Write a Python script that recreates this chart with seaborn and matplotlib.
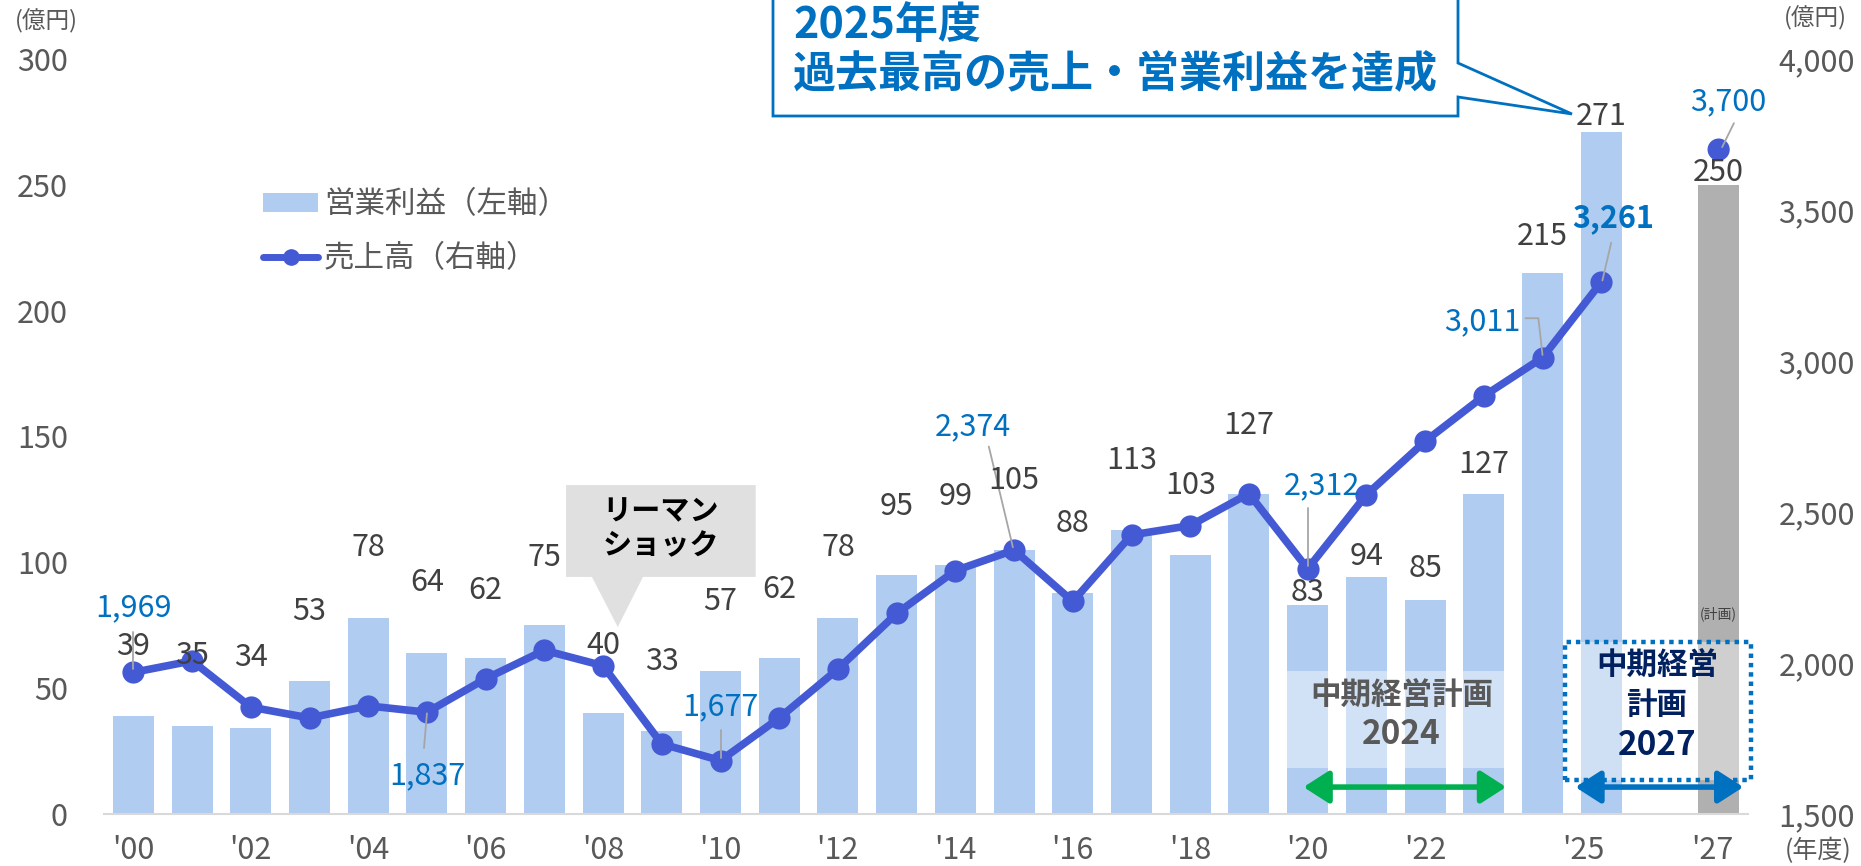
import numpy as np
import pandas as pd
import matplotlib
matplotlib.use("Agg")
import matplotlib.pyplot as plt
import seaborn as sns
from matplotlib.patches import Rectangle, Polygon, FancyArrowPatch, Patch
from matplotlib.lines import Line2D

# ---------------- data ----------------
years = list(range(2000, 2026))
profit = [39, 35, 34, 53, 78, 64, 62, 75, 40, 33, 57, 62, 78, 95, 99, 105,
          88, 113, 103, 127, 83, 94, 85, 127, 215, 271]
sales = [1969, 2007, 1854, 1818, 1858, 1837, 1948, 2042, 1991, 1732, 1677,
         1818, 1980, 2164, 2306, 2374, 2204, 2424, 2455, 2561, 2312, 2557,
         2734, 2884, 3011, 3261]
plan_year = 2027
plan_profit = 250
plan_sales = 3700
labelled_sales_years = [2000, 2005, 2010, 2015, 2020, 2024, 2025]

tick_labels = ["'00", "'02", "'04", "'06", "'08", "'10", "'12", "'14", "'16",
               "'18", "'20", "'22", "'25", "'27"]
left_ticks = [0, 50, 100, 150, 200, 250, 300]
right_ticks = [1500, 2000, 2500, 3000, 3500, 4000]

legend_labels = ["営業利益（左軸）", "売上高（右軸）"]
headline = ["2025年度", "過去最高の売上・営業利益を達成"]
lehman_text = "リーマン\nショック"
plan24_text = ["中期経営計画", "2024"]
plan27_text = ["中期経営", "計画", "2027"]

# ---------------- layout (positions only) ----------------
tick_pos = [2000, 2002, 2004, 2006, 2008, 2010, 2012, 2014, 2016, 2018, 2020,
            2022, 2024.7, 2026.9]
bar_label_y = [66.4, 62.8, 62, 80.3, 105.7, 91.8, 89, 102, 67.1, 60.4, 84.6,
               89.4, 105.7, 122, 126, 132.7, 115.6, 140.6, 130.7, 154.5, 88.2,
               102.5, 97.7, 138.7, 229.6, 277]
plan_label_y = 255
sales_label_pos = {2000: (2000, 81.8), 2005: (2005, 15.1), 2010: (2010, 42.5),
                   2015: (2014.3, 153.8), 2020: (2020.25, 130.3),
                   2024: (2022.98, 195.5), 2025: (2025.2, 236.8),
                   2027: (2027.16, 282.9)}
leaders = {2000: [(2000, 72.3), (2000, 57.5)],
           2005: [(2005, 40.0), (2004.95, 26.2)],
           2010: [(2010, 33.4), (2010, 22.2)],
           2015: [(2014.57, 146), (2014.98, 106)],
           2020: [(2020, 121.6), (2020, 98.5)],
           2024: [(2023.71, 197), (2023.93, 197), (2024, 182.4)],
           2025: [(2025.17, 227), (2025.02, 212)],
           2027: [(2027.26, 274.5), (2027.06, 265)]}

BAR = "#B0CCF0"
GRAY_BAR = "#B0B0B0"
LINE = "#4459D4"
BLUE_TXT = "#0070C0"
DARK = "#404040"
TICK = "#595959"
FS = 22

sns.set_style("white")
plt.rcParams["font.family"] = ["Noto Sans CJK JP", "DejaVu Sans"]

W, H = 1861, 866
fig, ax = plt.subplots(figsize=(W / 100, H / 100), dpi=100)
fig.subplots_adjust(left=104 / W, right=1748 / W, bottom=1 - 814 / H, top=1 - 59 / H)

df_bar = pd.DataFrame({
    "year": years + [plan_year],
    "profit": profit + [plan_profit],
    "kind": ["actual"] * len(years) + ["plan"],
})
sns.barplot(data=df_bar, x="year", y="profit", hue="kind",
            palette={"actual": BAR, "plan": GRAY_BAR}, native_scale=True,
            width=0.7, dodge=False, errorbar=None, legend=False, ax=ax,
            linewidth=0, saturation=1)

ax2 = ax.twinx()
df_line = pd.DataFrame({"year": years, "sales": sales})
sns.lineplot(data=df_line, x="year", y="sales", ax=ax2, color=LINE, lw=5.5,
             marker="o", markersize=16, markeredgewidth=0, zorder=3)
sns.scatterplot(x=[plan_year], y=[plan_sales], ax=ax2, color=LINE, s=256,
                edgecolor="none", zorder=3)

for a in (ax, ax2):
    for s in ("top", "left", "right"):
        a.spines[s].set_visible(False)
ax2.spines["bottom"].set_visible(False)
ax.spines["bottom"].set_color("#D9D9D9")
ax.spines["bottom"].set_linewidth(1.5)

ax.set_xlim(1999.5, 2027.5)
ax.set_ylim(0, 300)
ax2.set_ylim(1500, 4000)
ax.set_yticks(left_ticks)
ax.set_yticklabels([str(v) for v in left_ticks])
ax2.set_yticks(right_ticks)
ax2.set_yticklabels([f"{v:,}" for v in right_ticks])
ax.set_xticks(tick_pos)
ax.set_xticklabels(tick_labels)
ax.set_xticks([1999.5 + 2 * i for i in range(15)], minor=True)
ax.tick_params(axis="x", which="major", length=0, pad=15, labelsize=FS, labelcolor=TICK)
ax.tick_params(axis="x", which="minor", length=7.5, width=1.5, color="#D9D9D9")
ax.tick_params(axis="y", length=0, pad=26, labelsize=FS, labelcolor=TICK)
ax2.tick_params(axis="y", length=0, pad=22, labelsize=FS, labelcolor=TICK)
for a in (ax, ax2):
    a.set_xlabel("")
    a.set_ylabel("")
    a.grid(False)

T = ax.transData
for yr, v, ly in zip(years, profit, bar_label_y):
    ax2.text(yr, ly, str(v), transform=T, ha="center", va="center",
             fontsize=FS, color=DARK, zorder=6)
ax2.text(plan_year, plan_label_y, str(plan_profit), transform=T, ha="center",
         va="center", fontsize=FS, color=DARK, zorder=6)

sales_map = dict(zip(years, sales))
sales_map[plan_year] = plan_sales
for yr in labelled_sales_years + [plan_year]:
    lx, ly = sales_label_pos[yr]
    ax2.text(lx, ly, f"{sales_map[yr]:,}", transform=T, ha="center", va="center",
             fontsize=FS, color=BLUE_TXT, zorder=6,
             fontweight="bold" if yr == 2025 else "normal")
    pts = leaders[yr]
    ax2.add_line(Line2D([p[0] for p in pts], [p[1] for p in pts], transform=T,
                        color="#A6A6A6", lw=1.3, zorder=5))

leh = Polygon([(2007.37, 130.7), (2010.6, 130.7), (2010.6, 94.2),
               (2008.68, 94.2), (2008.25, 74.3), (2007.81, 94.2),
               (2007.37, 94.2)], closed=True, transform=T,
              facecolor="#E0E0E0", edgecolor="none", zorder=4)
ax2.add_patch(leh)
ax2.text(2008.98, 113.5, lehman_text, transform=T, ha="center", va="center",
         fontsize=21, fontweight="bold", color="black", zorder=6,
         linespacing=1.2)

ax2.add_patch(Rectangle((2019.64, 18.3), 3.88, 38.5, transform=T,
                        facecolor=(1, 1, 1, 0.42), edgecolor="none", zorder=4))
ax2.text(2021.6, 46.9, plan24_text[0], transform=T, ha="center", va="center",
         fontsize=22, fontweight="bold", color="#595959", zorder=6)
ax2.text(2021.6, 31.4, plan24_text[1], transform=T, ha="center", va="center",
         fontsize=24, fontweight="bold", color="#595959", zorder=6)
ax2.add_patch(FancyArrowPatch((2019.93, 10.7), (2023.38, 10.7), transform=T,
                              arrowstyle="<|-|>,head_length=0.7,head_width=0.45",
                              mutation_scale=22, color="#00B050", lw=4,
                              shrinkA=0, shrinkB=0, zorder=6))

ax2.add_patch(Rectangle((2024.39, 13.5), 3.16, 54.8, transform=T,
                        facecolor=(1, 1, 1, 0.4), edgecolor=BLUE_TXT, lw=3.2,
                        linestyle=(0, (1, 1.1)), zorder=4, clip_on=False))
for s, yy, fs in zip(plan27_text, [58.8, 43.3, 27.4], [22, 22, 24]):
    ax2.text(2025.95, yy, s, transform=T, ha="center", va="center",
             fontsize=fs, fontweight="bold", color="#002060", zorder=6)
ax2.add_patch(FancyArrowPatch((2024.56, 10.7), (2027.42, 10.7), transform=T,
                              arrowstyle="<|-|>,head_length=0.7,head_width=0.45",
                              mutation_scale=22, color=BLUE_TXT, lw=4,
                              shrinkA=0, shrinkB=0, zorder=6, clip_on=False))
ax2.text(plan_year, 79.5, "(計画)", transform=T, ha="center", va="center",
         fontsize=10, color=DARK, zorder=6)

handles = [Patch(facecolor=BAR, edgecolor="none"),
           Line2D([], [], color=LINE, lw=5, marker="o", markersize=12,
                  markeredgewidth=0)]
leg = fig.legend(handles, legend_labels, loc="upper left",
                 bbox_to_anchor=(263 / W, 1 - 189 / H), frameon=False,
                 fontsize=FS, handlelength=1.8, handleheight=0.6,
                 handletextpad=0.2, labelspacing=0.75, borderpad=0,
                 borderaxespad=0)
for t in leg.get_texts():
    t.set_color(TICK)


def fx(px):
    return px / W


def fy(py):
    return 1 - py / H


call = Polygon([(fx(773), fy(-5)), (fx(1458), fy(-5)), (fx(1458), fy(63)),
                (fx(1572), fy(114)), (fx(1458), fy(97)), (fx(1458), fy(116)),
                (fx(773), fy(116))], closed=True, transform=fig.transFigure,
               facecolor="white", edgecolor=BLUE_TXT, lw=2, zorder=10)
fig.add_artist(call)
fig.text(fx(793), fy(25), headline[0], ha="left", va="center", fontsize=31,
         fontweight="bold", color=BLUE_TXT, zorder=11)
fig.text(fx(793), fy(74), headline[1], ha="left", va="center", fontsize=31,
         fontweight="bold", color=BLUE_TXT, zorder=11)

fig.text(fx(46), fy(21), "(億円)", ha="center", va="center", fontsize=17, color=TICK)
fig.text(fx(1815), fy(18), "(億円)", ha="center", va="center", fontsize=17, color=TICK)
fig.text(fx(1818), fy(851), "(年度)", ha="center", va="center", fontsize=18, color=TICK)

fig.savefig("out.png", dpi=100)
